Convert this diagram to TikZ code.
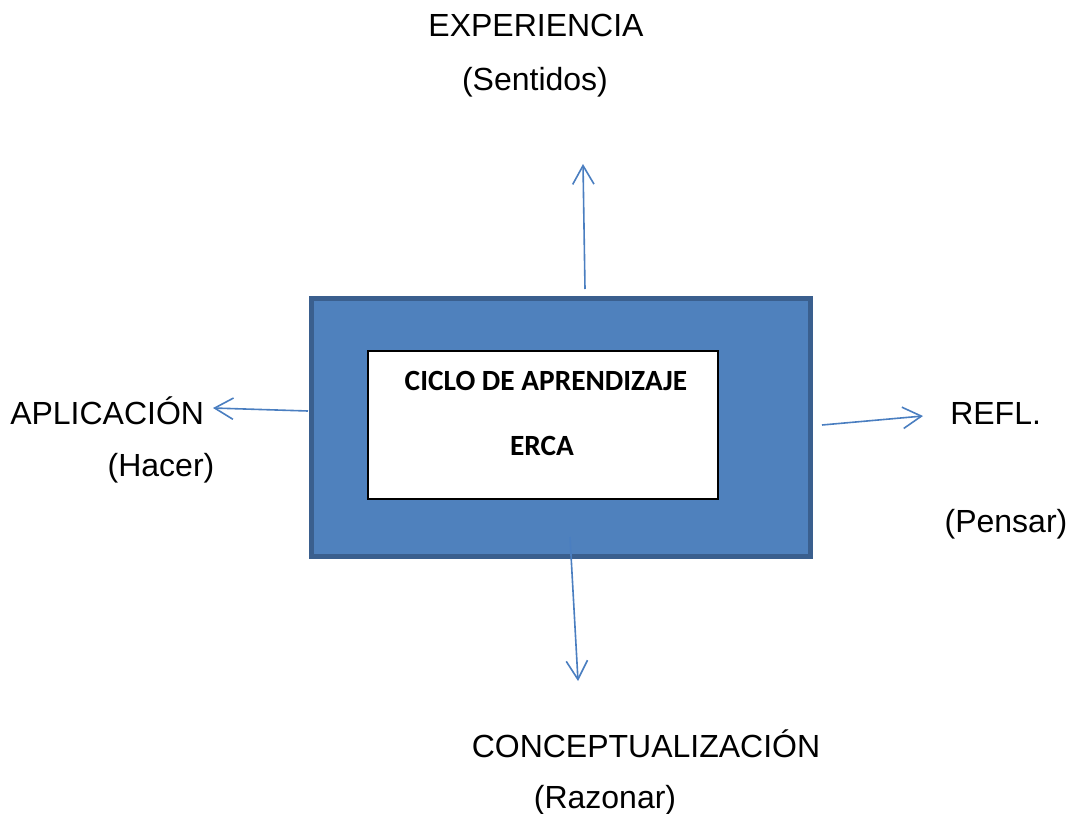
\documentclass[tikz,border=0pt]{standalone}
\usepackage{fontspec}
\setmainfont{Liberation Sans}
\newfontfamily\boxfont{Carlito}
\usetikzlibrary{arrows.meta}

\tikzset{
  lbl/.style={inner sep=0pt, font=\fontsize{24}{28}\selectfont},
  cyc/.style={inner sep=0pt, font=\boxfont\bfseries\fontsize{22}{26}\selectfont},
  flow/.style={draw=arrowblue, line width=1.2pt, -{Straight Barb[length=14pt,width=16pt,line width=1.2pt]}}
}
\definecolor{boxfill}{HTML}{4F81BD}
\definecolor{boxline}{HTML}{3A5F8E}
\definecolor{arrowblue}{HTML}{4A7EC0}

\begin{document}
\begin{tikzpicture}[x=0.75pt,y=-0.75pt]
	\useasboundingbox (0,0) rectangle (1075,814);
	% outer and inner box
	\node[draw=boxline, fill=boxfill, line width=3.5pt, minimum width=374pt, minimum height=193.5pt, inner sep=0pt] (outer) at (561,427.5) {};
	\node[draw=black, fill=white, line width=1.5pt, minimum width=262pt, minimum height=111pt, inner sep=0pt] (inner) at (543,424.5) {};
	\node[cyc] (cyc1) at (546,381) {CICLO DE APRENDIZAJE};
	\node[cyc] (cyc2) at (542,446) {ERCA};
	% labels
	\node[lbl] (exp) at (536,25) {EXPERIENCIA};
	\node[lbl] (sen) at (535,82) {(Sentidos)};
	\node[lbl, anchor=west] (apl) at (10,411) {APLICACIÓN};
	\node[lbl] (hac) at (161,468) {(Hacer)};
	\node[lbl, anchor=west] (ref) at (950,413) {REFL.};
	\node[lbl] (pen) at (1006,524) {(Pensar)};
	\node[lbl] (con) at (646,744) {CONCEPTUALIZACIÓN};
	\node[lbl] (raz) at (605,800) {(Razonar)};
	% arrows
	\coordinate (upS) at (585,289);  \coordinate (upE) at (583,164);
	\coordinate (lfS) at (308,411);  \coordinate (lfE) at (213,408);
	\coordinate (rtS) at (822,425);  \coordinate (rtE) at (923,416);
	\coordinate (dnS) at (570,537);  \coordinate (dnE) at (578,681);
	\draw[flow] (upS) -- (upE);
	\draw[flow] (lfS) -- (lfE);
	\draw[flow] (rtS) -- (rtE);
	\draw[flow] (dnS) -- (dnE);
\end{tikzpicture}
\end{document}
